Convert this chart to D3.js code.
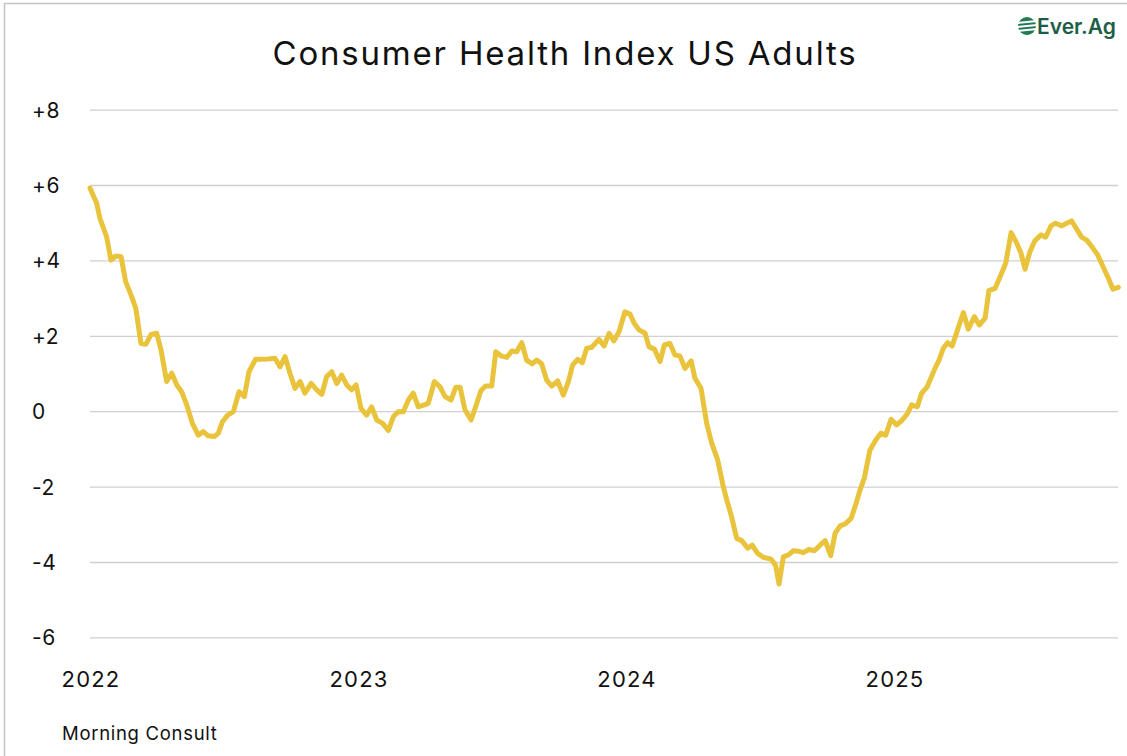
<!DOCTYPE html>
<html>
<head>
<meta charset="utf-8">
<script src="https://cdnjs.cloudflare.com/ajax/libs/d3/7.8.5/d3.min.js"></script>
<style>
	body{margin:0;background:#fff;}
	text{font-family:Inter,"Noto Sans",sans-serif;}
</style>
</head>
<body>
<div id="chart-box"></div>
<script>
// Position of each reading, in years (2022.5 = mid 2022)
const yearPos=[
	2022.000,2022.025,2022.037,2022.062,2022.078,2022.096,2022.116,2022.133,2022.153,2022.171,
	2022.190,2022.209,2022.228,2022.249,2022.265,2022.286,2022.305,2022.324,2022.342,2022.361,
	2022.382,2022.404,2022.423,2022.441,2022.464,2022.479,2022.494,2022.514,2022.535,2022.556,
	2022.576,2022.593,2022.618,2022.641,2022.665,2022.690,2022.709,2022.728,2022.746,2022.765,
	2022.784,2022.802,2022.825,2022.846,2022.865,2022.883,2022.902,2022.921,2022.939,2022.958,
	2022.976,2022.993,2023.011,2023.032,2023.051,2023.070,2023.092,2023.113,2023.132,2023.150,
	2023.169,2023.188,2023.206,2023.225,2023.247,2023.262,2023.285,2023.306,2023.325,2023.347,
	2023.365,2023.381,2023.399,2023.422,2023.439,2023.459,2023.476,2023.499,2023.514,2023.534,
	2023.555,2023.574,2023.592,2023.611,2023.629,2023.650,2023.667,2023.685,2023.704,2023.723,
	2023.745,2023.766,2023.785,2023.801,2023.820,2023.837,2023.853,2023.872,2023.899,2023.918,
	2023.937,2023.955,2023.974,2023.996,2024.015,2024.031,2024.049,2024.071,2024.086,2024.106,
	2024.127,2024.143,2024.164,2024.183,2024.201,2024.220,2024.243,2024.257,2024.280,2024.301,
	2024.320,2024.342,2024.363,2024.376,2024.394,2024.413,2024.432,2024.454,2024.471,2024.491,
	2024.512,2024.541,2024.558,2024.571,2024.587,2024.606,2024.624,2024.643,2024.662,2024.683,
	2024.703,2024.724,2024.743,2024.764,2024.780,2024.799,2024.817,2024.840,2024.857,2024.873,
	2024.889,2024.910,2024.932,2024.951,2024.969,2024.989,2025.010,2025.031,2025.051,2025.066,
	2025.087,2025.103,2025.124,2025.153,2025.168,2025.184,2025.200,2025.217,2025.238,2025.259,
	2025.277,2025.300,2025.318,2025.340,2025.354,2025.377,2025.396,2025.417,2025.437,2025.458,
	2025.474,2025.489,2025.507,2025.526,2025.549,2025.566,2025.586,2025.603,2025.626,2025.644,
	2025.663,2025.682,2025.700,2025.719,2025.740,2025.760,2025.781,2025.800,2025.817,2025.837
];
// Consumer health index, US adults
const indexVals=[
	5.93,5.53,5.13,4.64,4.02,4.13,4.11,3.45,3.10,2.74,
	1.81,1.79,2.05,2.08,1.64,0.80,1.02,0.71,0.53,0.18,
	-0.31,-0.62,-0.53,-0.64,-0.66,-0.57,-0.27,-0.09,0.00,0.53,
	0.40,1.06,1.39,1.39,1.40,1.42,1.19,1.46,1.02,0.62,
	0.80,0.49,0.75,0.58,0.46,0.93,1.06,0.75,0.97,0.71,
	0.58,0.71,0.09,-0.09,0.13,-0.22,-0.31,-0.50,-0.13,0.00,
	0.00,0.31,0.49,0.13,0.18,0.22,0.80,0.66,0.40,0.31,
	0.65,0.65,0.05,-0.22,0.13,0.56,0.68,0.68,1.59,1.48,
	1.44,1.61,1.59,1.83,1.37,1.27,1.37,1.27,0.84,0.68,
	0.82,0.44,0.80,1.24,1.39,1.30,1.68,1.71,1.92,1.74,
	2.08,1.88,2.12,2.65,2.59,2.34,2.17,2.08,1.72,1.66,
	1.33,1.77,1.81,1.50,1.48,1.15,1.35,0.89,0.62,-0.31,
	-0.84,-1.28,-1.99,-2.34,-2.79,-3.36,-3.42,-3.62,-3.54,-3.76,
	-3.86,-3.91,-4.07,-4.57,-3.85,-3.80,-3.69,-3.70,-3.74,-3.65,
	-3.69,-3.54,-3.42,-3.82,-3.23,-3.03,-2.98,-2.83,-2.47,-2.08,
	-1.77,-1.02,-0.75,-0.57,-0.62,-0.20,-0.35,-0.22,-0.04,0.18,
	0.13,0.49,0.66,1.15,1.37,1.68,1.83,1.74,2.19,2.63,
	2.19,2.52,2.30,2.48,3.21,3.27,3.58,3.94,4.75,4.47,
	4.20,3.78,4.24,4.54,4.69,4.63,4.93,5.00,4.93,5.00,
	5.06,4.84,4.63,4.55,4.36,4.16,3.83,3.54,3.25,3.30
];
const yTicks=[-6,-4,-2,0,2,4,6,8];
const xTicks=[2022,2023,2024,2025];

const chartMaker=
{
	draw: function ()
	{
		const w=1127;
		const h=756;
		const left=90;
		const right=1118;
		const svg=d3.select("#chart-box")
		.append("svg")
		.attr("width",w)
		.attr("height",h);
		//Frame around the picture
		svg.append("rect")
		.attr("x",4.5).attr("y",3.5)
		.attr("width",w+10).attr("height",h+10)
		.attr("fill","none")
		.attr("stroke","#c4c4c4")
		.attr("stroke-width",1.5);
		//Scales
		const xScale=d3.scaleLinear()
		.domain([2022,2022+(right-left)/268])
		.range([left,right]);
		const yScale=d3.scaleLinear()
		.domain([-6,8])
		.range([637.9,110.1]);
		//Gridlines
		svg.append("g")
		.selectAll("line")
		.data(yTicks)
		.enter()
		.append("line")
		.attr("x1",left).attr("x2",right)
		.attr("y1",(d)=> yScale(d)).attr("y2",(d)=> yScale(d))
		.attr("stroke","#d0d0d0")
		.attr("stroke-width",1.3);
		//Y labels
		svg.append("g")
		.selectAll("text")
		.data(yTicks)
		.enter()
		.append("text")
		.attr("x",32)
		.attr("y",(d)=> yScale(d))
		.attr("dy","0.36em")
		.attr("font-size",21)
		.attr("letter-spacing",0.6)
		.attr("fill","#111")
		.text((d)=> d>0 ? "+"+d : ""+d);
		//X labels
		svg.append("g")
		.selectAll("text")
		.data(xTicks)
		.enter()
		.append("text")
		.attr("x",(d)=> xScale(d)+1)
		.attr("y",687)
		.attr("text-anchor","middle")
		.attr("font-size",22)
		.attr("letter-spacing",1.2)
		.attr("fill","#111")
		.text((d)=> d);
		//Index line
		const pts=yearPos.map((d,i)=> [d,indexVals[i]]);
		const line=d3.line()
		.x((d)=> xScale(d[0]))
		.y((d)=> yScale(d[1]));
		svg.append("path")
		.datum(pts)
		.attr("d",line)
		.attr("fill","none")
		.attr("stroke","#e9c33b")
		.attr("stroke-width",5)
		.attr("stroke-linejoin","round")
		.attr("stroke-linecap","round");
		//Title and source
		svg.append("text")
		.attr("x",565)
		.attr("y",65)
		.attr("text-anchor","middle")
		.attr("font-size",33)
		.attr("letter-spacing",1.8)
		.attr("fill","#111")
		.text("Consumer Health Index US Adults");
		svg.append("text")
		.attr("x",62)
		.attr("y",740)
		.attr("font-size",18.5)
		.attr("letter-spacing",0.7)
		.attr("fill","#111")
		.text("Morning Consult");
		this.logo(svg);
	},
	logo: function (svg)
	{
		const g=svg.append("g").attr("transform","translate(1027,26)");
		g.append("circle").attr("r",9).attr("fill","#1f7a55");
		[-3,1,5].forEach((dy)=>
		{
			g.append("line")
			.attr("x1",-10).attr("x2",10)
			.attr("y1",dy).attr("y2",dy-2)
			.attr("stroke","#fff")
			.attr("stroke-width",1.8);
		});
		g.append("text")
		.attr("x",10)
		.attr("y",8)
		.attr("font-size",21)
		.attr("font-weight",600)
		.attr("fill","#1d5e48")
		.text("Ever.Ag");
	}
};

document.addEventListener("DOMContentLoaded",function ()
{
	chartMaker.draw();
});
</script>
</body>
</html>
